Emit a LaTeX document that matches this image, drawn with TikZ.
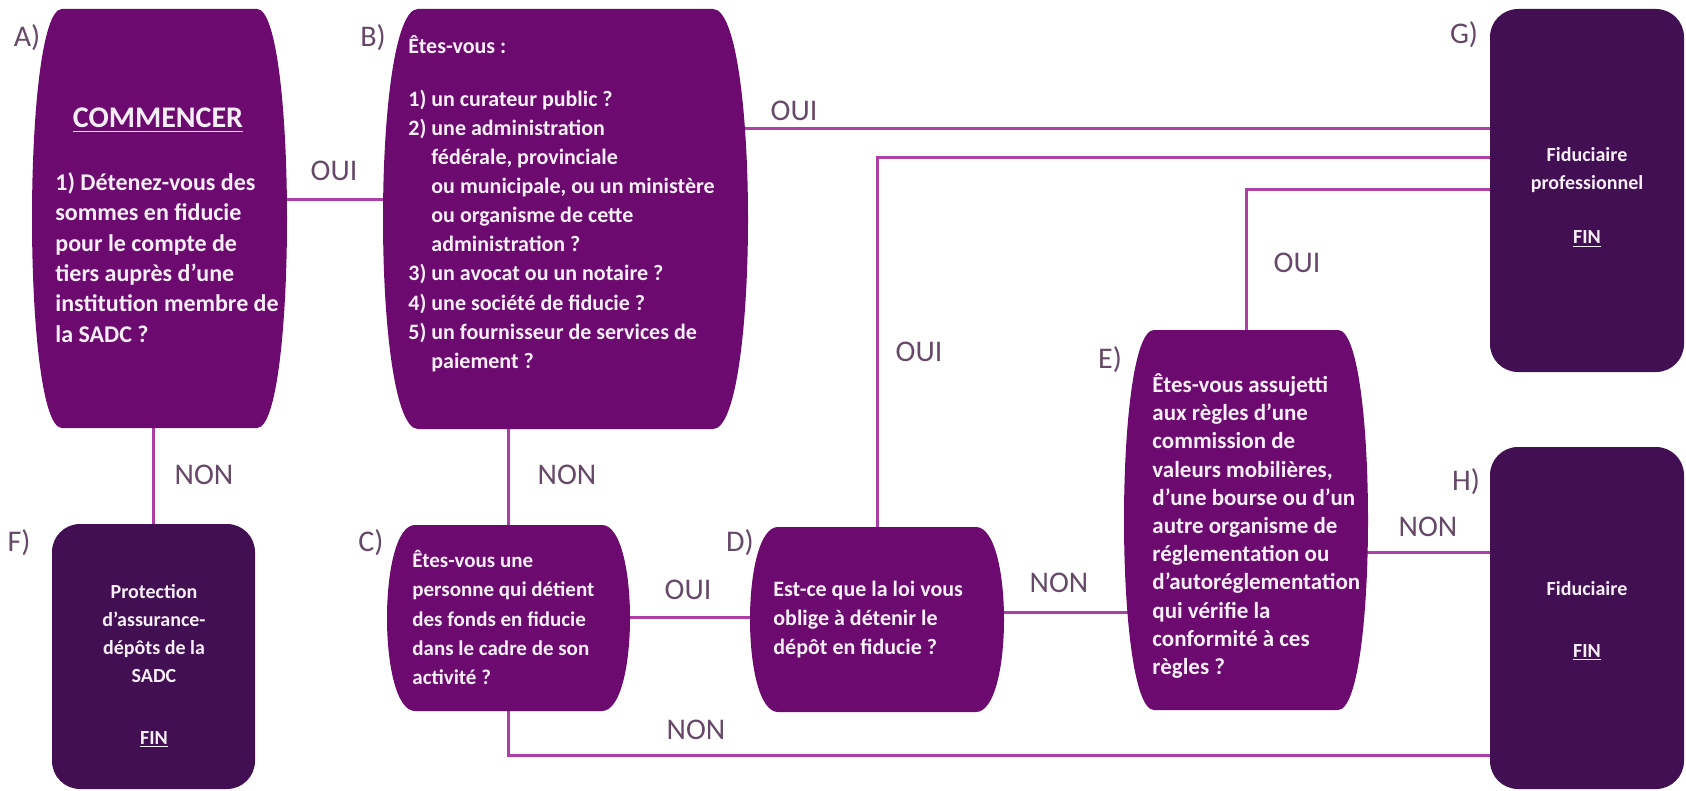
\documentclass[tikz,border=0pt]{standalone}
\usepackage{fontspec}
\setmainfont{Carlito}
\pgfdeclarelayer{bg}
\pgfsetlayers{bg,main}
\definecolor{pmid}{HTML}{6C0A70}
\definecolor{pdark}{HTML}{420F52}
\definecolor{pline}{HTML}{AE3FA6}
\definecolor{plab}{HTML}{664868}
\definecolor{ptext}{HTML}{F8EEF8}
\newcommand\barrelshape[3]{%
  \fill[#3] ([xshift={#2*0.5pt}]#1.north west) -- ([xshift={-#2*0.5pt}]#1.north east)
    .. controls ([xshift={#2*0.5pt/3}]#1.north east) and ([xshift={#2*0.5pt/3}]#1.south east) .. ([xshift={-#2*0.5pt}]#1.south east)
    -- ([xshift={#2*0.5pt}]#1.south west)
    .. controls ([xshift={-#2*0.5pt/3}]#1.south west) and ([xshift={-#2*0.5pt/3}]#1.north west) .. cycle;}
\tikzset{
  area/.style={inner sep=0pt, outer sep=0pt, draw=none},
  endbox/.style={fill=pdark, rounded corners=14pt, inner sep=0pt, outer sep=0pt},
  conn/.style={draw=pline, line width=1.5pt},
  lab/.style={text=plab, font=\fontsize{15}{18}\selectfont, inner sep=0pt},
  txt/.style={text=ptext, inner sep=0pt, align=left, anchor=north west},
  ctxt/.style={text=ptext, inner sep=0pt, align=center, anchor=north},
}
\begin{document}
\begin{tikzpicture}[x=0.5pt,y=-0.5pt]
\useasboundingbox (0,0) rectangle (1686,791);
% box areas
\node[area, minimum width=127.5pt, minimum height=209.5pt] (A) at (159.5,218.5) {};
\node[area, minimum width=182.5pt, minimum height=210pt] (B) at (565.5,219) {};
\node[area, minimum width=121.5pt, minimum height=93pt] (C) at (508.5,618) {};
\node[area, minimum width=127pt, minimum height=92.5pt] (D) at (877,619.5) {};
\node[area, minimum width=122pt, minimum height=190pt] (E) at (1246,520) {};
\node[endbox, minimum width=101.5pt, minimum height=132.5pt] (F) at (153.5,656.5) {};
\node[endbox, minimum width=97pt, minimum height=181.5pt] (G) at (1587,190.5) {};
\node[endbox, minimum width=97pt, minimum height=171pt] (H) at (1587,618) {};
\barrelshape{A}{30}{pmid}
\barrelshape{B}{35}{pmid}
\barrelshape{C}{28}{pmid}
\barrelshape{D}{28}{pmid}
\barrelshape{E}{30}{pmid}
% connectors
\begin{pgfonlayer}{bg}
  \coordinate (yAB) at (0,200);
  \coordinate (yBG) at (0,129);
  \coordinate (yDG) at (0,158);
  \coordinate (yEG) at (0,190);
  \coordinate (yCD) at (0,617);
  \coordinate (yDE) at (0,612);
  \coordinate (yEH) at (0,552);
  \coordinate (yCH) at (0,755);
  \draw[conn] (A.center |- yAB) -- (B.center |- yAB);
  \draw[conn] (B.center |- yBG) -- (G.center |- yBG);
  \draw[conn] (D.center) -- (D.center |- yDG) -- (G.center |- yDG);
  \draw[conn] (E.center) -- (E.center |- yEG) -- (G.center |- yEG);
  \draw[conn] (F.center) -- (F.center |- A.center);
  \draw[conn] (C.center) -- (C.center |- B.center);
  \draw[conn] (C.center |- yCD) -- (D.center |- yCD);
  \draw[conn] (D.center |- yDE) -- (E.center |- yDE);
  \draw[conn] (E.center |- yEH) -- (H.center |- yEH);
  \draw[conn] (C.center) -- (C.center |- yCH) -- (H.center |- yCH);
\end{pgfonlayer}
% box texts
\node[text=ptext, inner sep=0pt, anchor=base, font=\bfseries\fontsize{15}{18}\selectfont] (Acm) at (158,128) {\underline{COMMENCER}};
\node[txt, font=\bfseries\fontsize{12}{15.2}\selectfont] (At) at (55,168.7)
  {\strut 1) Détenez-vous des\\sommes en fiducie\\pour le compte de\\tiers auprès d’une\\institution membre de\\la SADC ?};
\node[txt, font=\bfseries\fontsize{11}{14.55}\selectfont] (Bt0) at (408,32.6) {\strut Êtes-vous :};
\node[txt, font=\bfseries\fontsize{11}{14.55}\selectfont] (Bt) at (408,85.6)
  {\strut 1) un curateur public ?\\
   2) une administration\\
   \hphantom{2) }fédérale, provinciale\\
   \hphantom{2) }ou municipale, ou un ministère\\
   \hphantom{2) }ou organisme de cette\\
   \hphantom{2) }administration ?\\
   3) un avocat ou un notaire ?\\
   4) une société de fiducie ?\\
   5) un fournisseur de services de\\
   \hphantom{5) }paiement ?};
\node[txt, font=\bfseries\fontsize{10.5}{14.7}\selectfont] (Ct) at (412,546.4)
  {\strut Êtes-vous une\\personne qui détient\\des fonds en fiducie\\dans le cadre de son\\activité ?};
\node[txt, font=\bfseries\fontsize{11}{14.5}\selectfont] (Dt) at (773,575.7)
  {\strut Est-ce que la loi vous\\oblige à détenir le\\dépôt en fiducie ?};
\node[txt, font=\bfseries\fontsize{11.5}{14.1}\selectfont] (Et) at (1152,372.3)
  {\strut Êtes-vous assujetti\\aux règles d’une\\commission de\\valeurs mobilières,\\d’une bourse ou d’un\\autre organisme de\\réglementation ou\\d’autoréglementation\\qui vérifie la\\conformité à ces\\règles ?};
\node[ctxt, font=\bfseries\fontsize{10}{14}\selectfont] (Ft) at (154,578.4)
  {\strut Protection\\d’assurance-\\dépôts de la\\SADC};
\node[text=ptext, inner sep=0pt, anchor=base, font=\bfseries\fontsize{10}{14}\selectfont] (Ff) at (154,744) {\underline{FIN}};
\node[ctxt, font=\bfseries\fontsize{10}{14}\selectfont] (Gt) at (1587,141.4)
  {\strut Fiduciaire\\professionnel};
\node[text=ptext, inner sep=0pt, anchor=base, font=\bfseries\fontsize{10}{14}\selectfont] (Gf) at (1587,244) {\underline{FIN}};
\node[text=ptext, inner sep=0pt, anchor=base, font=\bfseries\fontsize{10}{14}\selectfont] (Ht) at (1587,595) {Fiduciaire};
\node[text=ptext, inner sep=0pt, anchor=base, font=\bfseries\fontsize{10}{14}\selectfont] (Hf) at (1587,657) {\underline{FIN}};
% letter labels
\node[lab] (lA) at (27,38) {A)};
\node[lab] (lB) at (373,38) {B)};
\node[lab] (lC) at (371,543) {C)};
\node[lab] (lD) at (740,543) {D)};
\node[lab] (lE) at (1110,360) {E)};
\node[lab] (lF) at (19,543) {F)};
\node[lab] (lG) at (1464,35) {G)};
\node[lab] (lH) at (1466,482) {H)};
% answer labels
\node[lab] (o1) at (334,171) {OUI};
\node[lab] (o2) at (794,111) {OUI};
\node[lab] (o3) at (919,352) {OUI};
\node[lab] (o4) at (1297,263) {OUI};
\node[lab] (o5) at (688,590) {OUI};
\node[lab] (n1) at (204,475) {NON};
\node[lab] (n2) at (567,475) {NON};
\node[lab] (n3) at (1059,583) {NON};
\node[lab] (n4) at (1428,527) {NON};
\node[lab] (n5) at (696,730) {NON};
\end{tikzpicture}
\end{document}
